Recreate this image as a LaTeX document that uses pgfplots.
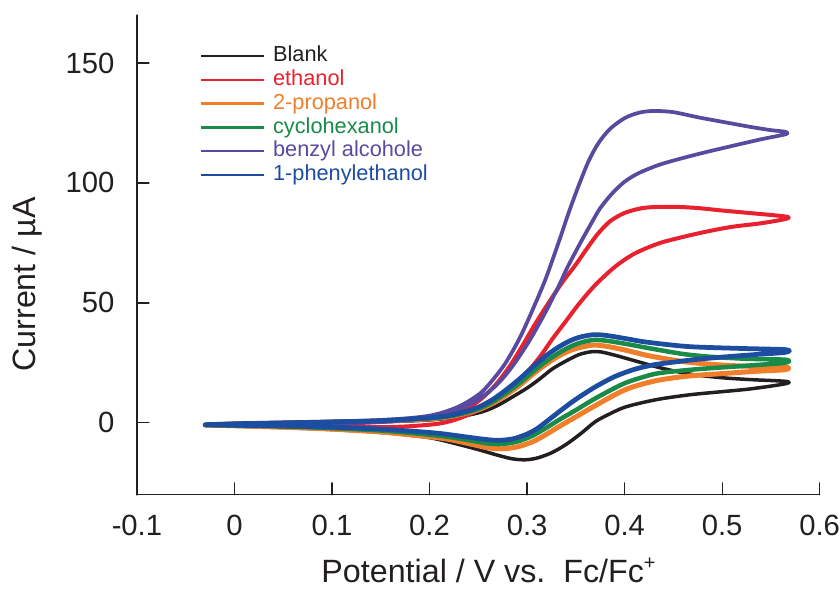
\documentclass[border=0pt]{standalone}
\usepackage{pgfplots}
\pgfplotsset{compat=1.18}
\usepackage{fontspec}
\setmainfont{Liberation Sans}
\definecolor{txt}{HTML}{231F20}
\definecolor{cblack}{HTML}{231F20}
\definecolor{cred}{HTML}{E8212E}
\definecolor{corange}{HTML}{F07E2B}
\definecolor{cgreen}{HTML}{198A48}
\definecolor{cpurple}{HTML}{5A4A9F}
\definecolor{cblue}{HTML}{1D4DA0}
\begin{document}
\begin{tikzpicture}
\begin{axis}[
  scale only axis, width=273.2pt, height=192pt,
  xmin=-0.1, xmax=0.6, ymin=-30, ymax=170,
  axis x line*=bottom, axis y line*=left,
  axis line style={txt, line width=0.5pt},
  xtick={-0.1,0,0.1,0.2,0.3,0.4,0.5,0.6},
  ytick={0,50,100,150},
  tick align=inside, major tick length=4.8pt,
  tick style={txt, line width=0.5pt},
  /pgf/number format/assume math mode=true,
  ticklabel style={font=\fontsize{11.7}{14}\selectfont, text=txt},
  xticklabel style={inner sep=0pt, anchor=north, yshift=-8pt},
  yticklabel style={inner sep=0pt, anchor=east, xshift=-8.8pt},
  xlabel={Potential / V vs.\ \ Fc/Fc\raisebox{0.42em}{\fontsize{8}{8}\selectfont+}},
  ylabel={Current / µA},
  label style={font=\fontsize{12.9}{15}\selectfont, text=txt},
  xlabel style={at={(axis description cs:0.515,-0.1833)}, anchor=base},
  ylabel style={at={(axis description cs:-0.1493,0.4385)}, anchor=base},
  legend style={draw=none, fill=none, at={(axis description cs:0.0922,0.936)}, anchor=north west,
    inner sep=0pt, outer sep=0pt, font=\fontsize{8.7}{10}\selectfont, row sep=1.2pt,
    nodes={inner sep=0pt, text height=6.5pt, text depth=1.8pt}},
  legend cell align=left,
  legend image code/.code={\draw[line width=1pt] (0pt,0pt) -- (25pt,0pt); \path (27.8pt,0pt);},
  line join=round, line cap=round,
]
\addplot[cblack, line width=1.4pt, smooth, tension=0.5, mark=none] coordinates {
(-0.03,-1.0)(0,-0.7)(0.05,-0.3)(0.1,0)(0.15,0.4)(0.2,1.2)(0.23,2.5)(0.254,4.6)(0.27,7.3)(0.285,10.8)(0.3,14.5)(0.312,18)(0.326,22.5)(0.34,25.8)(0.353,28.4)(0.365,29.6)(0.375,29.6)(0.39,28.2)(0.418,25)(0.44,22.6)(0.469,20.2)(0.5,18.8)(0.53,18)(0.565,17.3)
(0.565,16.3)(0.53,14.2)(0.5,13)(0.469,11.8)(0.44,10.2)(0.42,8.6)(0.4,6.5)(0.385,3.8)(0.37,0.5)(0.355,-4.5)(0.34,-9)(0.325,-12.5)(0.31,-14.7)(0.298,-15.4)(0.285,-15)(0.27,-13.5)(0.245,-10.6)(0.21,-7)(0.19,-5.6)(0.15,-4)(0.1,-2.8)(0.05,-2)(0,-1.4)(-0.03,-1.0)
};
\addlegendentry{\textcolor{cblack}{Blank}}
\addplot[cred, line width=1.6pt, smooth, tension=0.5, mark=none] coordinates {
(-0.03,-0.9)(0,-0.5)(0.05,-0.1)(0.1,0.3)(0.15,0.8)(0.18,1.1)(0.21,2)(0.238,6)(0.253,10)(0.268,16)(0.282,23.5)(0.295,32)(0.308,41)(0.322,50)(0.336,58.5)(0.35,66)(0.362,73)(0.373,79)(0.385,84)(0.4,87.5)(0.418,89.5)(0.435,90)(0.455,90)(0.476,89.5)(0.5,88.5)(0.527,87.5)(0.565,86)
(0.565,85)(0.54,83.2)(0.51,81.7)(0.485,79.8)(0.46,77.5)(0.435,74.8)(0.41,70.5)(0.39,65)(0.37,57.5)(0.353,49.5)(0.34,42.5)(0.326,35)(0.314,28)(0.302,22)(0.29,17.2)(0.278,13.2)(0.265,9)(0.251,5.5)(0.23,1.8)(0.21,-0.3)(0.18,-1.4)(0.15,-1.8)(0.1,-1.6)(0.05,-1.3)(0,-1.0)(-0.03,-0.9)
};
\addlegendentry{\textcolor{cred}{ethanol}}
\addplot[corange, line width=2pt, smooth, tension=0.5, mark=none] coordinates {
(-0.03,-0.9)(0,-0.5)(0.05,-0.1)(0.1,0.3)(0.15,0.7)(0.21,2)(0.235,3.8)(0.251,5.6)(0.265,8.2)(0.278,11.5)(0.292,15.5)(0.305,20)(0.318,24)(0.33,27.3)(0.342,29.8)(0.353,31.3)(0.367,32.4)(0.38,32)(0.4,30.4)(0.42,28.4)(0.435,27.2)(0.465,25.3)(0.503,24)(0.535,23.5)(0.565,23.3)
(0.565,22.2)(0.535,21.5)(0.503,20.6)(0.465,19.5)(0.435,17.8)(0.415,15.8)(0.4,13.7)(0.385,10.6)(0.367,6.5)(0.35,2.5)(0.333,-1.5)(0.318,-5.2)(0.305,-8)(0.29,-10)(0.275,-10.8)(0.26,-10.4)(0.244,-9)(0.225,-7.3)(0.21,-6.3)(0.18,-5)(0.15,-3.8)(0.1,-2.6)(0.05,-1.8)(0,-1.2)(-0.03,-0.9)
};
\addlegendentry{\textcolor{corange}{2-propanol}}
\addplot[cgreen, line width=1.8pt, smooth, tension=0.5, mark=none] coordinates {
(-0.03,-0.9)(0,-0.5)(0.05,-0.1)(0.1,0.3)(0.15,0.8)(0.21,2.2)(0.235,4)(0.251,6)(0.265,8.8)(0.278,12.3)(0.292,16.5)(0.305,21)(0.318,25.2)(0.33,28.5)(0.342,31.3)(0.353,33.2)(0.367,34.5)(0.38,34.3)(0.4,33)(0.42,31.5)(0.435,30.4)(0.46,28.7)(0.486,27.6)(0.525,26.7)(0.565,26.3)
(0.565,25.1)(0.535,24.1)(0.503,23.2)(0.47,22.2)(0.435,20.7)(0.415,18.6)(0.4,16.5)(0.385,13.5)(0.367,9.5)(0.35,5.3)(0.333,1.3)(0.32,-2)(0.305,-5.5)(0.29,-7.8)(0.275,-8.8)(0.26,-8.6)(0.245,-7.6)(0.225,-6.2)(0.21,-5.4)(0.18,-4.2)(0.15,-3.2)(0.1,-2.2)(0.05,-1.5)(0,-1.1)(-0.03,-0.9)
};
\addlegendentry{\textcolor{cgreen}{cyclohexanol}}
\addplot[cpurple, line width=1.5pt, smooth, tension=0.5, mark=none] coordinates {
(-0.03,-0.8)(0,-0.3)(0.05,0.1)(0.1,0.5)(0.15,1.2)(0.18,2)(0.2,3)(0.215,4.5)(0.23,6.8)(0.242,9.5)(0.254,13)(0.266,18.5)(0.278,25)(0.292,35)(0.305,46.5)(0.319,60)(0.333,76)(0.343,88)(0.353,99)(0.363,109)(0.373,116.5)(0.385,122.5)(0.4,127)(0.415,129.3)(0.43,130)(0.45,129.5)(0.476,127.3)(0.5,125.5)(0.527,123.5)(0.55,122)(0.565,121.3)
(0.565,120.3)(0.54,118.2)(0.509,115.3)(0.485,113)(0.458,110.2)(0.435,107.5)(0.414,104)(0.4,100.5)(0.387,95.5)(0.375,89.5)(0.367,84)(0.358,77.5)(0.35,71.5)(0.341,64.5)(0.333,57.5)(0.32,47)(0.305,36)(0.295,29.5)(0.283,22.5)(0.271,16.7)(0.258,12)(0.244,8.3)(0.225,4.8)(0.2,2.2)(0.15,0.3)(0.1,-0.4)(0.05,-0.8)(0,-1)(-0.03,-0.8)
};
\addlegendentry{\textcolor{cpurple}{benzyl alcohole}}
\addplot[cblue, line width=1.9pt, smooth, tension=0.5, mark=none] coordinates {
(-0.03,-0.8)(0,-0.4)(0.05,0)(0.1,0.4)(0.15,0.9)(0.21,2.5)(0.235,4.5)(0.251,6.7)(0.265,9.8)(0.278,13.6)(0.292,18.2)(0.305,23)(0.318,27.5)(0.33,31)(0.342,33.8)(0.353,35.6)(0.367,36.7)(0.38,36.5)(0.4,35.2)(0.418,33.9)(0.44,32.8)(0.469,31.7)(0.52,31)(0.565,30.5)
(0.565,29.4)(0.535,28.5)(0.503,27.5)(0.475,26.5)(0.452,25.4)(0.43,24.2)(0.41,22.3)(0.39,19.3)(0.37,15)(0.35,9.8)(0.335,5.3)(0.322,1.2)(0.31,-2.5)(0.298,-5)(0.285,-6.7)(0.27,-7.3)(0.255,-6.8)(0.24,-6)(0.21,-4.4)(0.18,-3.4)(0.15,-2.6)(0.1,-1.8)(0.05,-1.3)(0,-1)(-0.03,-0.8)
};
\addlegendentry{\textcolor{cblue}{1-phenylethanol}}
\end{axis}
\path[use as bounding box] ([xshift=-54.8pt,yshift=-36pt]current axis.south west) rectangle ([xshift=8pt,yshift=6pt]current axis.north east);
\end{tikzpicture}
\end{document}
